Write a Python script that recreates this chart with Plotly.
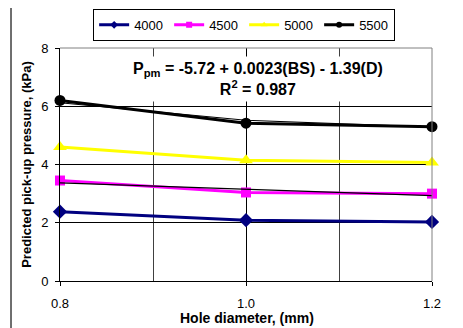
import plotly.graph_objects as go

hole_diameter = [0.8, 1.0, 1.2]
series_names = ["4000", "4500", "5000", "5500"]
p_4000 = [2.38, 2.09, 2.03]
p_4500 = [3.45, 3.04, 3.00]
p_5000 = [4.60, 4.15, 4.07]
p_5500 = [6.20, 5.42, 5.30]
fit_4500 = [3.37, 3.15, 2.93]
fit_5500 = [6.12, 5.52, 5.28]

colors = ["#000080", "#FF00FF", "#FFFF00", "#000000"]
symbols = ["diamond", "square", "triangle-up", "circle"]
sizes = [11, 10, 12, 11]
values = [p_4000, p_4500, p_5000, p_5500]

fig = go.Figure()
for name, vals, c, s, sz in zip(series_names, values, colors, symbols, sizes):
    fig.add_trace(go.Scatter(x=hole_diameter, y=vals, name=name, mode="lines+markers",
                             line=dict(color=c, width=3),
                             marker=dict(symbol=s, size=sz, color=c),
                             cliponaxis=False, showlegend=False))
for fit in (fit_4500, fit_5500):
    fig.add_trace(go.Scatter(x=hole_diameter, y=fit, mode="lines",
                             line=dict(color="#000000", width=1.2),
                             showlegend=False, hoverinfo="skip"))
# legend entries with small markers
for name, c, s in zip(series_names, colors, symbols):
    fig.add_trace(go.Scatter(x=[None], y=[None], name=name, mode="lines+markers",
                             line=dict(color=c, width=3),
                             marker=dict(symbol=s, size=6, color=c)))

font = "Liberation Sans, Arial, sans-serif"
fig.update_layout(
    width=463, height=328,
    margin=dict(l=52, r=39, t=40, b=55, autoexpand=False),
    paper_bgcolor="white", plot_bgcolor="white",
    font=dict(family=font, size=13, color="black"),
    showlegend=True,
    legend=dict(orientation="h", x=0.495, xanchor="center", y=1.168, yanchor="top",
                bordercolor="black", borderwidth=1, font=dict(size=13),
                itemwidth=30, tracegroupgap=0, entrywidth=30, entrywidthmode="pixels"),
    xaxis=dict(range=[0.8, 1.2], tickvals=[0.8, 1.0, 1.2], ticktext=["0.8", "1.0", "1.2"],
               showgrid=True, gridcolor="#000000", gridwidth=1,
               minor=dict(dtick=0.1, tick0=0.8, showgrid=True, gridcolor="#404040", ticks=""),
               showline=True, linecolor="black", linewidth=1, mirror=False,
               ticks="outside", ticklen=4, tickcolor="black", zeroline=False,
               tickfont=dict(size=13), ticklabelstandoff=6),
    yaxis=dict(range=[0, 8], tickvals=[0, 2, 4, 6, 8],
               showgrid=True, gridcolor="#000000", gridwidth=1,
               showline=True, linecolor="black", linewidth=1,
               ticks="outside", ticklen=4, tickcolor="black", zeroline=False,
               tickfont=dict(size=13), ticklabelstandoff=4,
               title=dict(text="<b>Predicted pick-up pressure, (kPa)</b>", font=dict(size=13), standoff=6)),
    shapes=[
        dict(type="line", xref="paper", yref="paper", x0=0, x1=1, y0=1, y1=1,
             line=dict(color="#808080", width=1)),
        dict(type="line", xref="paper", yref="paper", x0=1, x1=1, y0=0, y1=1,
             line=dict(color="#808080", width=1)),
        dict(type="rect", xref="paper", yref="paper", x0=-0.1317, x1=1.12, y0=-0.25, y1=1.18,
             line=dict(color="#404040", width=1.5), layer="below"),
    ],
    annotations=[
        dict(text="<b>P<sub>pm</sub> = -5.72 + 0.0023(BS) - 1.39(D)</b><br><b>R<sup>2</sup> = 0.987</b>",
             xref="paper", yref="paper", x=0.532, y=0.869, xanchor="center", yanchor="middle",
             showarrow=False, font=dict(size=16), bgcolor="white", borderpad=3, align="center"),
        dict(text="<b>Hole diameter, (mm)</b>", xref="paper", yref="paper",
             x=0.503, y=-0.158, xanchor="center", yanchor="middle", showarrow=False,
             font=dict(size=14)),
    ],
)
fig.write_html("out.html")
